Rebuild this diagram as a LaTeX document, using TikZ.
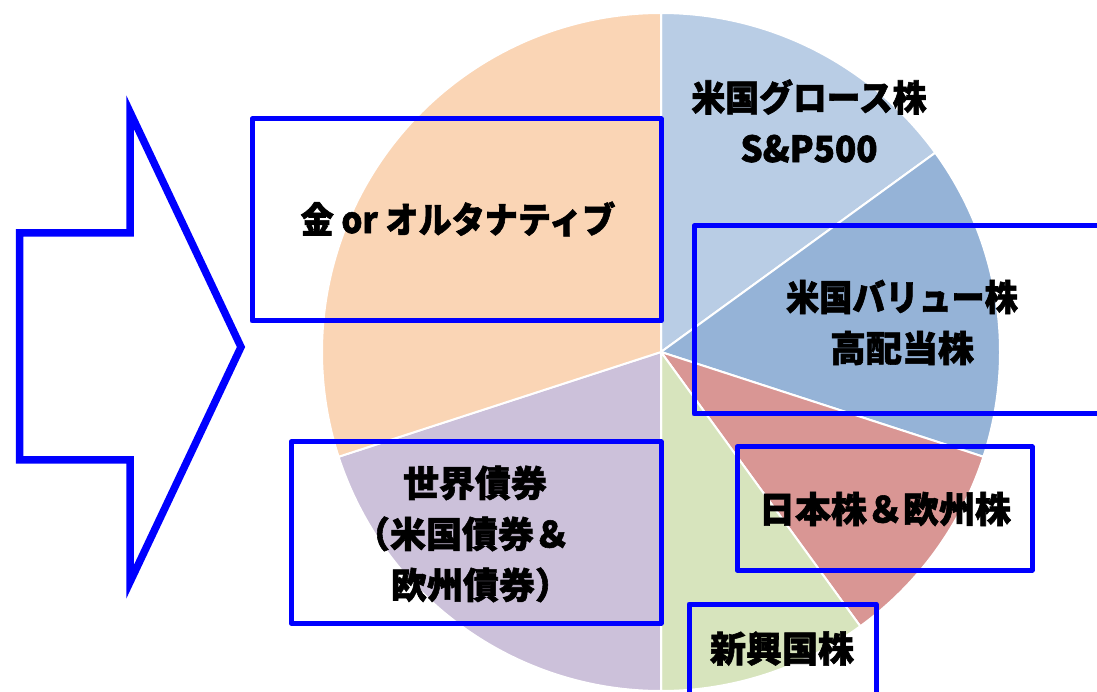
\documentclass[tikz,border=0pt]{standalone}
\usepackage{fontspec}
\newfontfamily\jpfont{Noto Sans CJK JP}[BoldFeatures={FakeBold=1.6}]
\definecolor{blueline}{RGB}{0,0,255}
\definecolor{sliceLB}{RGB}{185,205,229}
\definecolor{sliceMB}{RGB}{149,179,215}
\definecolor{sliceRD}{RGB}{217,150,148}
\definecolor{sliceGR}{RGB}{215,228,189}
\definecolor{slicePU}{RGB}{204,193,218}
\definecolor{sliceOR}{RGB}{250,213,181}
\newcommand{\narrowtxt}[2]{{\addfontfeature{FakeStretch=#1}#2}}
\begin{document}
\begin{tikzpicture}[x=1pt,y=1pt,
  box/.style={draw=blueline, line width=5pt, line join=round, inner sep=0pt, outer sep=0pt, anchor=south west},
  lbl/.style={font=\jpfont\bfseries\fontsize{36}{51}\selectfont, align=center, text=black, inner sep=0pt},
  slice/.style={draw=white, line width=2pt, line join=round}]
\useasboundingbox (0,0) rectangle (1097,691);
\clip (0,0) rectangle (1097,691);
\coordinate (c) at (661,339);
\def\R{339}
% pie slices
\path[slice, fill=sliceLB] (c) -- ++(36:\R) arc[start angle=36, end angle=90, radius=\R] -- cycle;
\path[slice, fill=sliceMB] (c) -- ++(-18:\R) arc[start angle=-18, end angle=36, radius=\R] -- cycle;
\path[slice, fill=sliceRD] (c) -- ++(-54:\R) arc[start angle=-54, end angle=-18, radius=\R] -- cycle;
\path[slice, fill=sliceGR] (c) -- ++(-90:\R) arc[start angle=-90, end angle=-54, radius=\R] -- cycle;
\path[slice, fill=slicePU] (c) -- ++(198:\R) arc[start angle=198, end angle=270, radius=\R] -- cycle;
\path[slice, fill=sliceOR] (c) -- ++(90:\R) arc[start angle=90, end angle=198, radius=\R] -- cycle;
% big arrow
\draw[blueline, line width=7.5pt] (19.5,458) -- (130,458) -- (130,579) -- (241,344) -- (130,109) -- (130,231) -- (19.5,231) -- cycle;
% boxes
\node[box, minimum width=409pt, minimum height=202pt] (b1) at (252,370) {};
\node[box, minimum width=420pt, minimum height=188pt] (b2) at (694,277) {};
\node[box, minimum width=295pt, minimum height=123pt] (b3) at (737,121) {};
\node[box, minimum width=370pt, minimum height=181pt] (b4) at (291,68) {};
\node[box, minimum width=187pt, minimum height=100pt] (b5) at (689,-13) {};
% labels
\node[lbl] (t1) at (809,570) {\narrowtxt{0.94}{米国グロース株}\\\narrowtxt{0.97}{S\&P500}};
\node[lbl] (t2) at (902,368.5) {\narrowtxt{0.92}{米国バリュー株}\\高配当株};
\node[lbl] (t3) at (885,182) {日本株＆欧州株};
\node[lbl] (t4) at (782,42.5) {新興国株};
\node[lbl] (t5) at (458,472) {\narrowtxt{0.92}{金 or オルタナティブ}};
\node[lbl] (t6) at (475,157) {世界債券\\（米国債券＆\rule{26pt}{0pt}\\\rule{12pt}{0pt}欧州債券）};
\end{tikzpicture}
\end{document}
